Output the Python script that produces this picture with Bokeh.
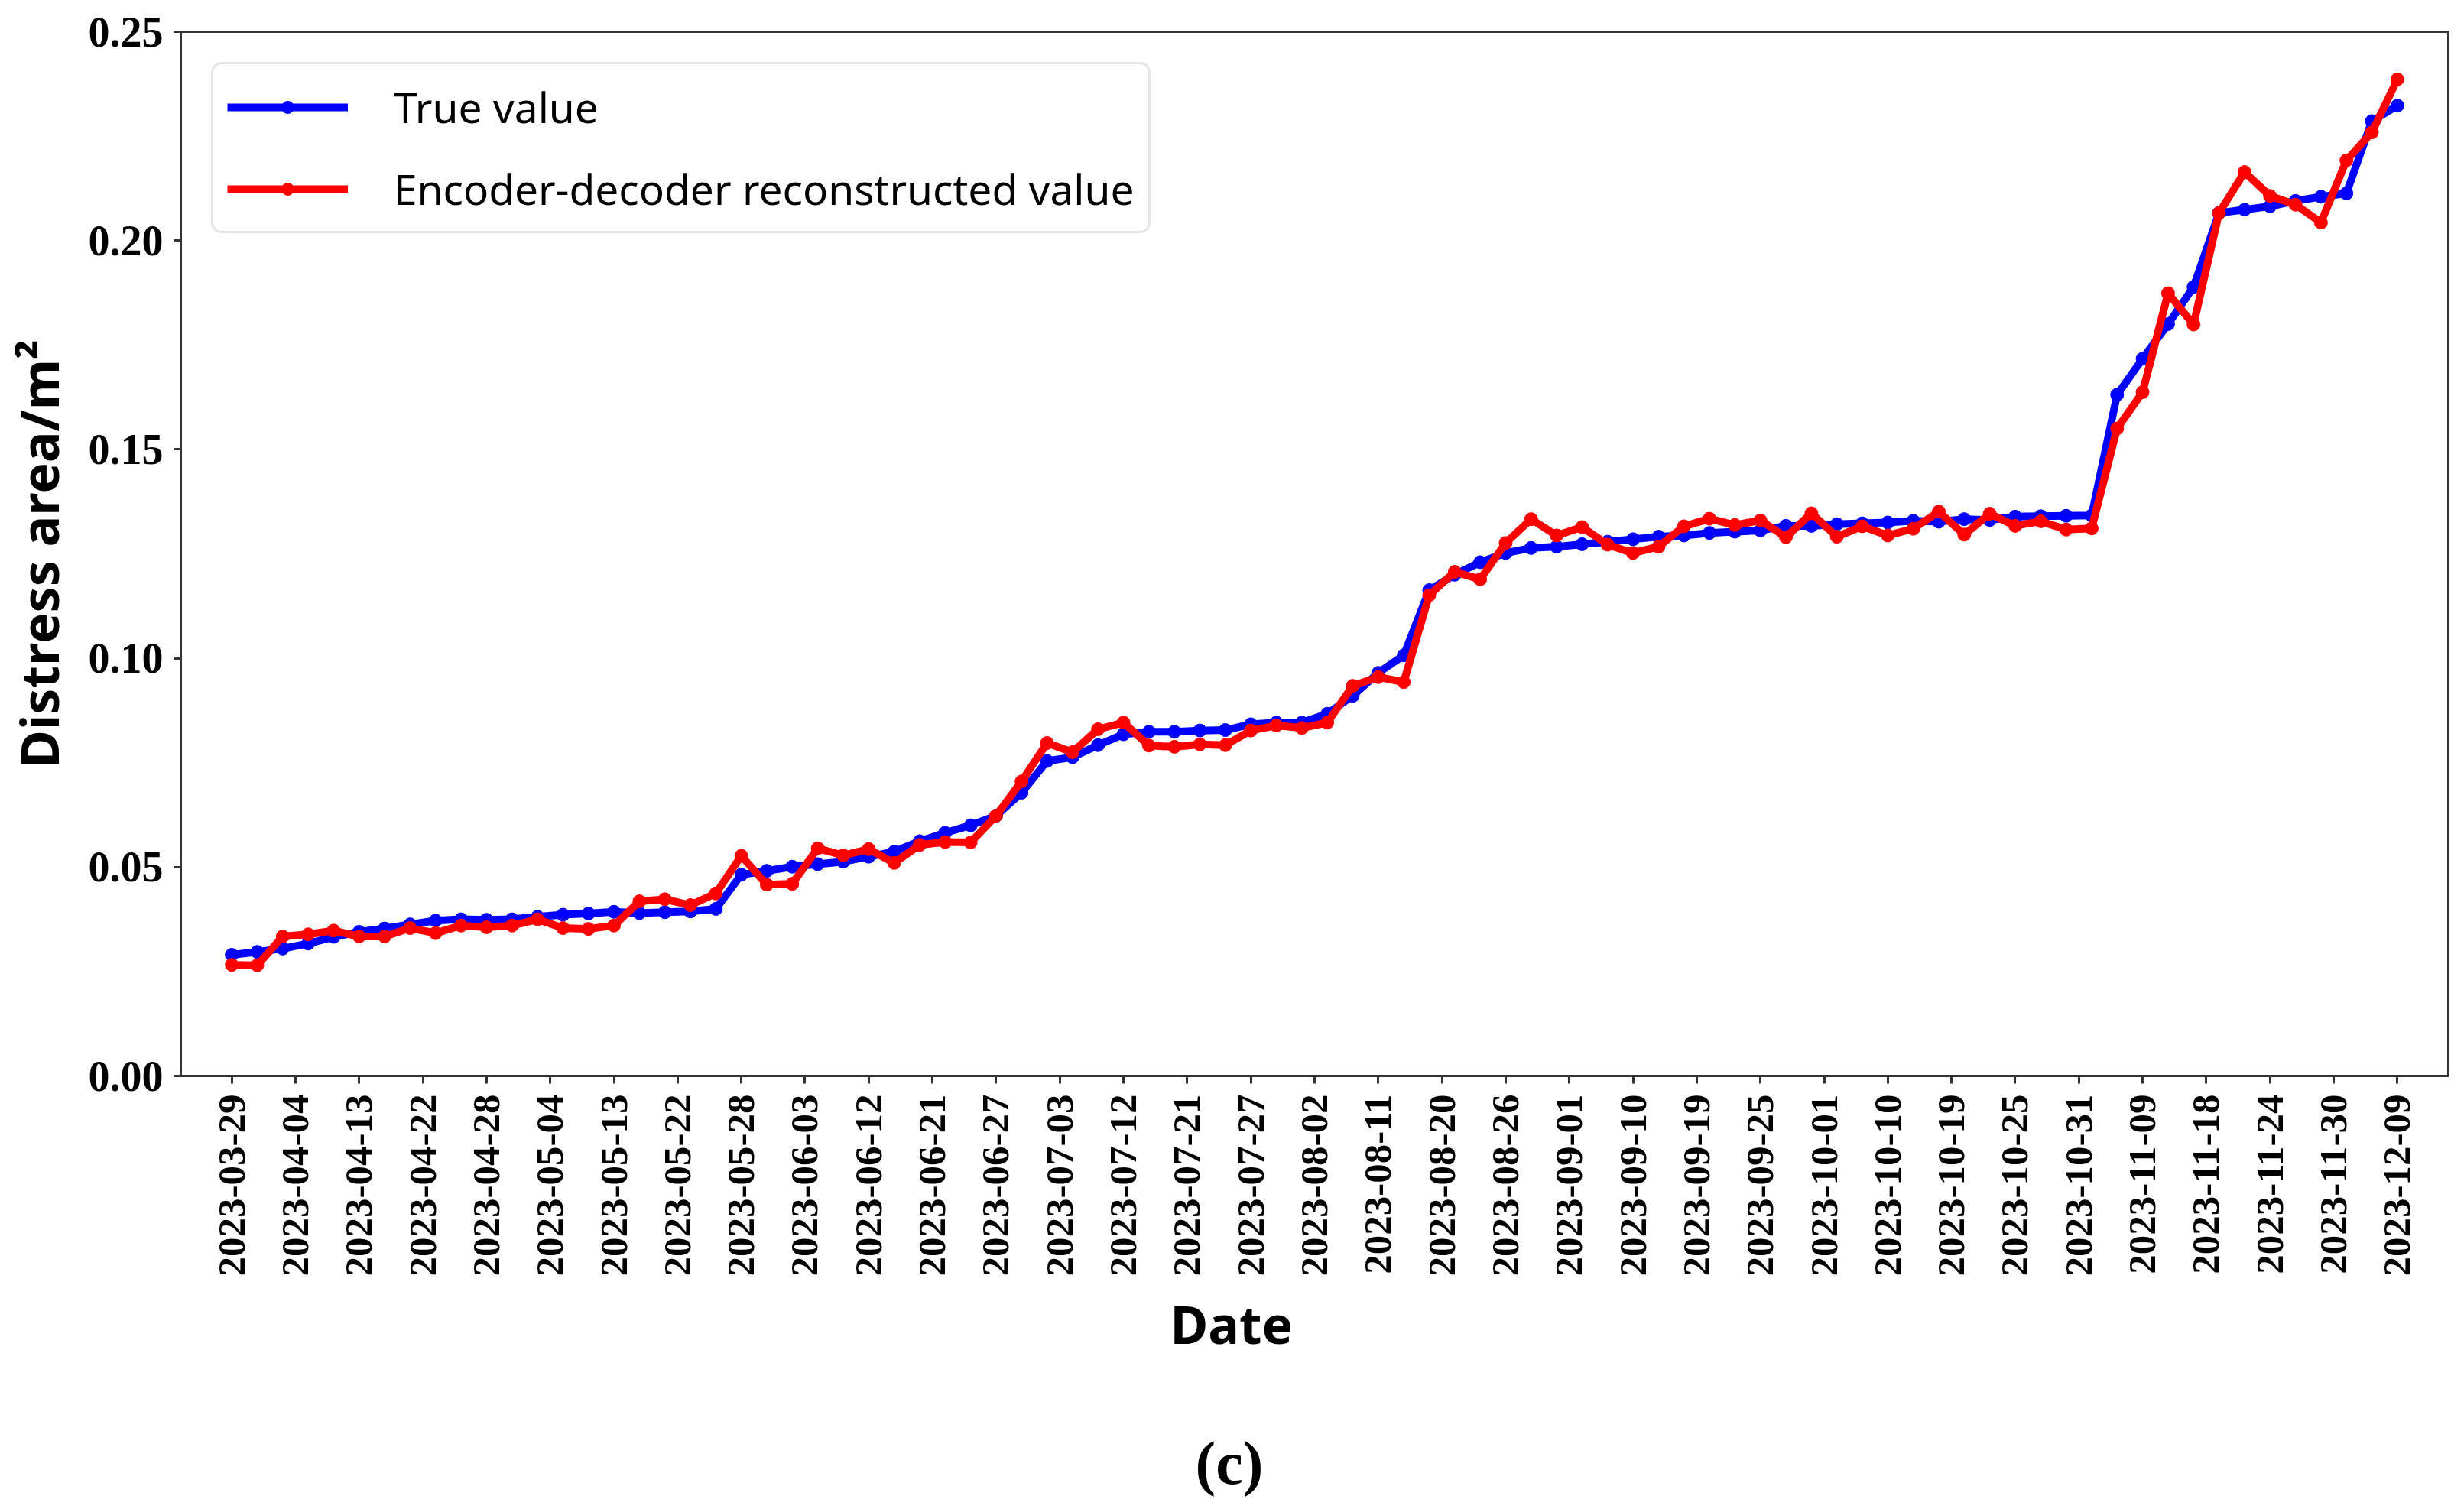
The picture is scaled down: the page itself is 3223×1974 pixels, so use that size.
import math
from bokeh.plotting import figure
from bokeh.models import FixedTicker, NumeralTickFormatter, Legend, Range1d, Title
from bokeh.embed import file_html
from bokeh.resources import INLINE

# ---- data -------------------------------------------------------------
tick_labels = [
    "2023-03-29", "2023-04-04", "2023-04-13", "2023-04-22", "2023-04-28",
    "2023-05-04", "2023-05-13", "2023-05-22", "2023-05-28", "2023-06-03",
    "2023-06-12", "2023-06-21", "2023-06-27", "2023-07-03", "2023-07-12",
    "2023-07-21", "2023-07-27", "2023-08-02", "2023-08-11", "2023-08-20",
    "2023-08-26", "2023-09-01", "2023-09-10", "2023-09-19", "2023-09-25",
    "2023-10-01", "2023-10-10", "2023-10-19", "2023-10-25", "2023-10-31",
    "2023-11-09", "2023-11-18", "2023-11-24", "2023-11-30", "2023-12-09",
]

true_value = [
    0.0290, 0.0297, 0.0305, 0.0317, 0.0333, 0.0345, 0.0353, 0.0363, 0.0372, 0.0375,
    0.0374, 0.0375, 0.0381, 0.0386, 0.0389, 0.0393, 0.0390, 0.0392, 0.0394, 0.0400,
    0.0482, 0.0491, 0.0501, 0.0507, 0.0513, 0.0525, 0.0537, 0.0562, 0.0582, 0.0600,
    0.0623, 0.0678, 0.0754, 0.0763, 0.0792, 0.0818, 0.0824, 0.0824, 0.0827, 0.0828,
    0.0842, 0.0846, 0.0846, 0.0867, 0.0910, 0.0965, 0.1007, 0.1163, 0.1200, 0.1230,
    0.1252, 0.1264, 0.1267, 0.1273, 0.1279, 0.1285, 0.1291, 0.1294, 0.1300, 0.1303,
    0.1306, 0.1317, 0.1317, 0.1321, 0.1323, 0.1325, 0.1329, 0.1327, 0.1333, 0.1331,
    0.1339, 0.1340, 0.1341, 0.1342, 0.1631, 0.1717, 0.1800, 0.1889, 0.2066, 0.2074,
    0.2082, 0.2095, 0.2105, 0.2113, 0.2286, 0.2323,
]

reconstructed_value = [
    0.0266, 0.0265, 0.0334, 0.0339, 0.0348, 0.0334, 0.0334, 0.0354, 0.0342, 0.0360,
    0.0356, 0.0360, 0.0375, 0.0354, 0.0352, 0.0360, 0.0418, 0.0423, 0.0409, 0.0437,
    0.0527, 0.0458, 0.0460, 0.0545, 0.0528, 0.0543, 0.0510, 0.0553, 0.0560, 0.0559,
    0.0623, 0.0705, 0.0797, 0.0775, 0.0830, 0.0846, 0.0791, 0.0788, 0.0794, 0.0792,
    0.0827, 0.0839, 0.0833, 0.0846, 0.0934, 0.0955, 0.0943, 0.1151, 0.1207, 0.1189,
    0.1276, 0.1333, 0.1294, 0.1314, 0.1272, 0.1252, 0.1267, 0.1316, 0.1334, 0.1319,
    0.1330, 0.1290, 0.1347, 0.1291, 0.1316, 0.1294, 0.1310, 0.1351, 0.1296, 0.1346,
    0.1317, 0.1328, 0.1308, 0.1311, 0.1550, 0.1637, 0.1874, 0.1799, 0.2066, 0.2164,
    0.2107, 0.2086, 0.2043, 0.2192, 0.2259, 0.2386,
]

y_ticks = [0.00, 0.05, 0.10, 0.15, 0.20, 0.25]

sample_index = list(range(len(true_value)))
tick_pos = [2.5 * k for k in range(len(tick_labels))]

# ---- figure -----------------------------------------------------------
p = figure(
    width=3215, height=1972,
    output_backend="svg", toolbar_location=None,
    x_range=Range1d(-2, 87), y_range=Range1d(0, 0.25),
    min_border_left=236, min_border_top=41,
    min_border_right=13, min_border_bottom=565,
)
p.background_fill_color = "white"
p.border_fill_color = "white"
p.grid.visible = False
p.outline_line_color = "#333333"
p.outline_line_width = 3

serif = "Liberation Serif"
sans = "Noto Sans"

# x axis
xa = p.xaxis[0]
xa.ticker = FixedTicker(ticks=tick_pos)
xa.major_label_overrides = {t: lab for t, lab in zip(tick_pos, tick_labels)}
xa.major_label_orientation = math.pi / 2
xa.major_label_text_font = serif
xa.major_label_text_font_style = "bold"
xa.major_label_text_font_size = "51px"
xa.major_label_text_color = "black"
xa.major_label_standoff = 14
xa.major_tick_out = 10
xa.major_tick_in = 0
xa.major_tick_line_width = 3
xa.major_tick_line_color = "#333333"
xa.minor_tick_line_color = None
xa.axis_line_color = "#333333"
xa.axis_line_width = 3

# y axis
ya = p.yaxis[0]
ya.ticker = FixedTicker(ticks=y_ticks)
ya.formatter = NumeralTickFormatter(format="0.00")
ya.major_label_text_font = serif
ya.major_label_text_font_style = "bold"
ya.major_label_text_font_size = "56px"
ya.major_label_text_color = "black"
ya.major_label_standoff = 14
ya.major_tick_out = 9
ya.major_tick_in = 0
ya.major_tick_line_width = 3
ya.major_tick_line_color = "#333333"
ya.minor_tick_line_color = None
ya.axis_line_color = "#333333"
ya.axis_line_width = 3
ya.axis_label = "Distress area/m\u00b2"
ya.axis_label_text_font = sans
ya.axis_label_text_font_style = "bold"
ya.axis_label_text_font_size = "68px"
ya.axis_label_text_color = "black"
ya.axis_label_standoff = 16

# ---- series -----------------------------------------------------------
blue = "#0000ff"
red = "#ff0000"
l1 = p.line(sample_index, true_value, line_color=blue, line_width=10)
s1 = p.scatter(sample_index, true_value, size=17, fill_color=blue, line_color=blue)
l2 = p.line(sample_index, reconstructed_value, line_color=red, line_width=10)
s2 = p.scatter(sample_index, reconstructed_value, size=17, fill_color=red, line_color=red)

legend = Legend(
    items=[("True value", [l1, s1]),
           ("Encoder-decoder reconstructed value", [l2, s2])],
    location="top_left",
    margin=40, padding=18, spacing=32,
    glyph_width=158, glyph_height=40, label_height=52,
    label_standoff=60,
    label_text_font=sans, label_text_font_size="55px", label_text_color="black",
    border_line_color="#cccccc", border_line_width=3,
    background_fill_color="white", background_fill_alpha=1.0,
)
if "border_radius" in Legend.properties():
    legend.border_radius = 14
p.add_layout(legend)

# x-axis title and panel caption, stacked below the axis
date_title = Title(text="Date", align="left", offset=1294, standoff=20,
                   text_font=sans, text_font_style="bold",
                   text_font_size="68px", text_color="black")
p.add_layout(date_title, "below")
spacer = Title(text=" ", align="left", standoff=72,
               text_font=sans, text_font_size="1px", text_color="white")
p.add_layout(spacer, "below")
caption = Title(text="(c)", align="left", offset=1327, standoff=10,
                text_font=serif, text_font_style="bold",
                text_font_size="80px", text_color="black")
p.add_layout(caption, "below")

open("out.html", "w").write(file_html(p, INLINE))
